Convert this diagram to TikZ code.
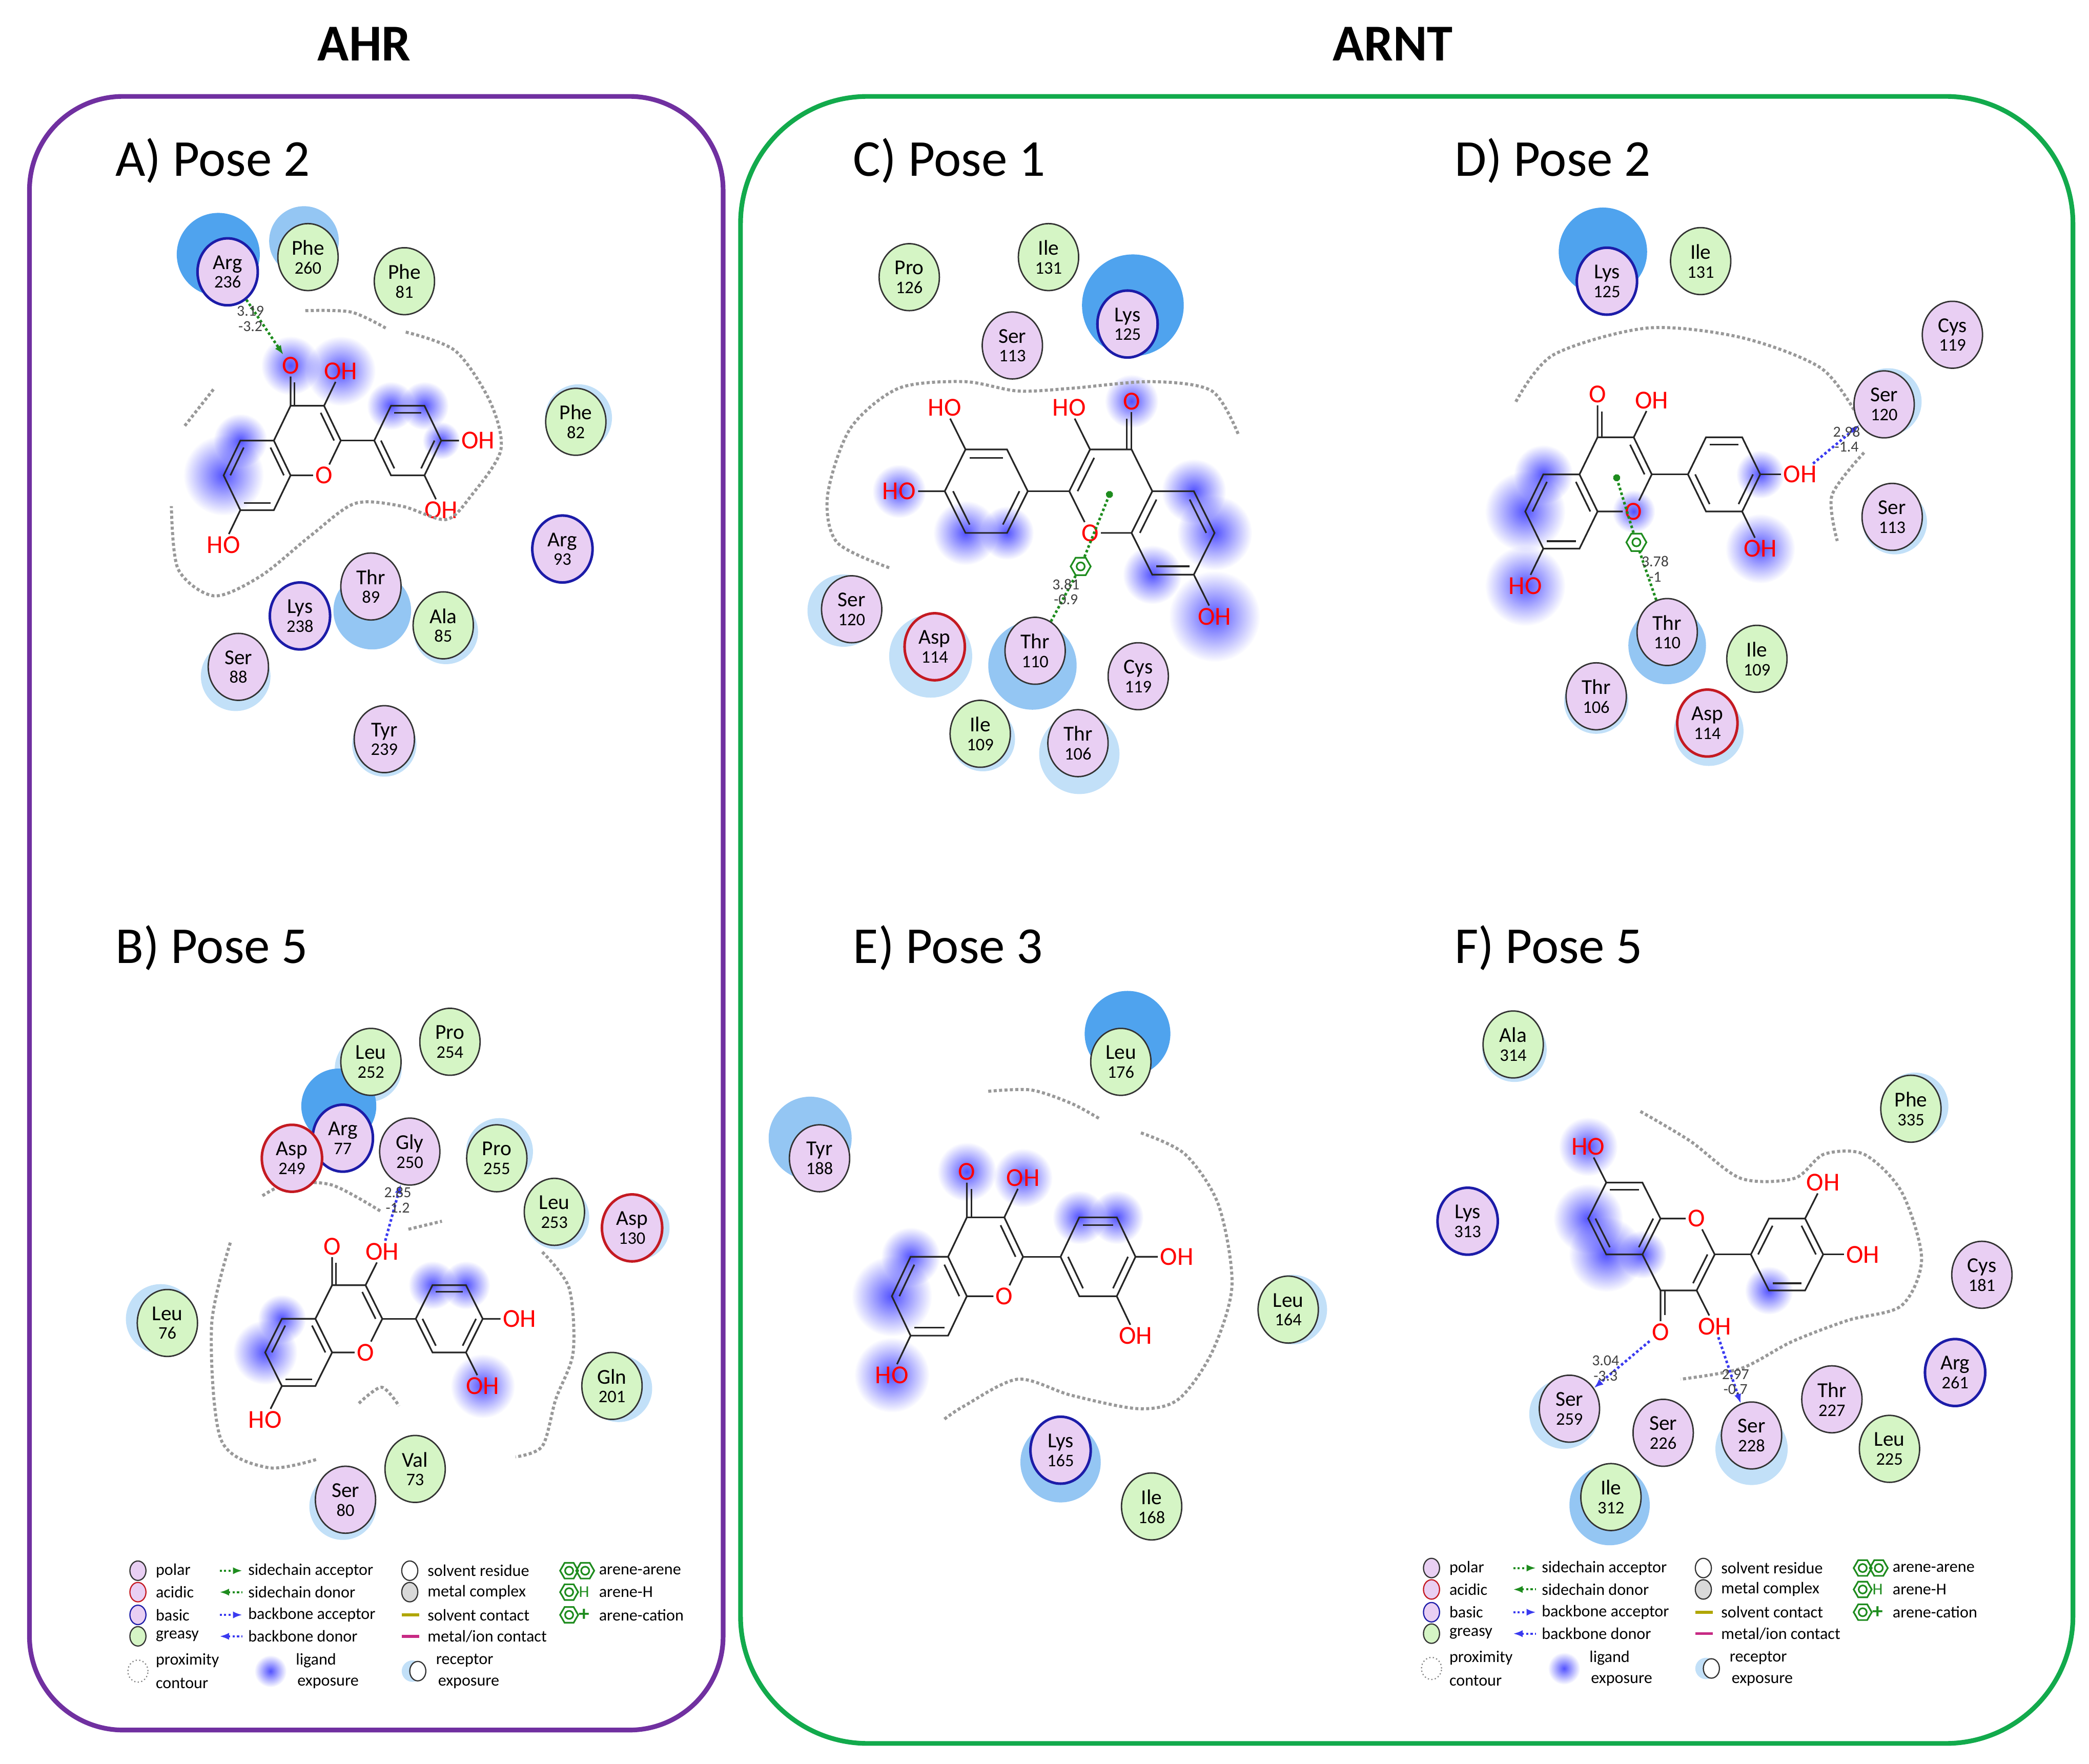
\documentclass[tikz,border=0pt]{standalone}
\usepackage{fontspec}
\setmainfont{Carlito}
\usetikzlibrary{positioning, arrows.meta, shapes.geometric, calc, fadings}

\definecolor{polarfill}{HTML}{E9CFF3}
\definecolor{greasyfill}{HTML}{D5F5C5}
\definecolor{basicdraw}{HTML}{1C1CA8}
\definecolor{acidicdraw}{HTML}{C41A22}
\definecolor{rxlight}{HTML}{C2E0F8}
\definecolor{rxmid}{HTML}{94C6F3}
\definecolor{rxstrong}{HTML}{4FA3EE}
\definecolor{ahrpurple}{HTML}{7030A0}
\definecolor{arntgreen}{HTML}{12AA4C}
\definecolor{hbgreen}{HTML}{1E8C1E}
\definecolor{hbblue}{HTML}{3A3AF0}

\tikzfading[name=blobfade, inner color=transparent!15, outer color=transparent!100]

\pgfdeclarelayer{bg}
\pgfsetlayers{bg,main}

\tikzset{
  res/.style={ellipse, draw=black!80, line width=0.6pt, minimum width=0.9cm, minimum height=1.0cm,
    inner sep=0pt, align=center, font=\fontsize{9}{9}\selectfont},
  polar/.style={res, fill=polarfill},
  greasy/.style={res, fill=greasyfill},
  acidic/.style={polar, draw=acidicdraw, line width=1.1pt},
  basic/.style={polar, draw=basicdraw, line width=1.1pt},
  legsym/.style={minimum width=0.24cm, minimum height=0.29cm, line width=0.5pt},
  rxl/.style={fill=rxlight},
  rxm/.style={fill=rxmid},
  rxs/.style={fill=rxstrong},
  lexp/.style={fill=blue!80, path fading=blobfade},
  atom/.style={text=red, font=\fontsize{11}{11}\selectfont, inner sep=0.8pt},
  bond/.style={line width=0.7pt, black!85},
  prox/.style={gray!80, densely dotted, line width=1.3pt},
  sca/.style={hbgreen, densely dotted, line width=1.1pt, -{Latex[length=4pt]}},
  bba/.style={hbblue, densely dotted, line width=1.1pt, -{Latex[length=4pt]}},
  dist/.style={font=\fontsize{6.5}{6.5}\selectfont, text=black!75, align=center, inner sep=0pt},
  arh/.style={regular polygon, regular polygon sides=6, draw=hbgreen, line width=0.7pt,
    minimum size=0.3cm, inner sep=0pt,
    path picture={\draw[hbgreen] (path picture bounding box.center) circle (0.06cm);}},
  pose/.style={anchor=west, font=\fontsize{22}{22}\selectfont},
  title/.style={font=\fontsize{22}{22}\selectfont\bfseries},
  leg/.style={anchor=west, font=\fontsize{7}{7}\selectfont, inner sep=0pt},
}

% residue: style, name, position, residue, number
\newcommand\res[5]{\node[#1] (#2) at (#3) {#4\\[-1pt]{\fontsize{7.5}{7.5}\selectfont #5}};}
% ligand exposure blob
\newcommand\lx[2]{\fill[lexp] (#1) circle (#2);}

% flavonol skeleton: scope options, name prefix
\newif\ifmirr
\newcommand\flav[2]{%
  \begin{scope}[#1]
    \coordinate (#2ra) at (0,0);
    \coordinate (#2rc) at (1.5,0.866);
    \coordinate (#2rb) at (4.5,0.866);
    \coordinate (#2c8a) at (1,0);
    \coordinate (#2c4a) at (0.5,0.866);
    \coordinate (#2c5) at (-0.5,0.866);
    \coordinate (#2c6) at (-1,0);
    \coordinate (#2c7) at (-0.5,-0.866);
    \coordinate (#2c8) at (0.5,-0.866);
    \coordinate (#2c4) at (1,1.732);
    \coordinate (#2c3) at (2,1.732);
    \coordinate (#2c2) at (2.5,0.866);
    \coordinate (#2b1) at (3.5,0.866);
    \coordinate (#2b2) at (4,1.732);
    \coordinate (#2b3) at (5,1.732);
    \coordinate (#2b4) at (5.5,0.866);
    \coordinate (#2b5) at (5,0);
    \coordinate (#2b6) at (4,0);
    \node[atom] (#2o1) at (2,0) {O};
    \node[atom] (#2o4) at (1,2.732) {O};
    \ifmirr
      \node[atom] (#2o3) at (2.5,2.598) {HO};
      \node[atom] (#2o7) at (-1,-1.732) {OH};
      \node[atom] (#2ob4) at (6.6,0.866) {HO};
      \coordinate (#2bm) at (#2b3);
      \node[atom] (#2obm) at (5.5,2.598) {HO};
    \else
      \node[atom] (#2o3) at (2.5,2.598) {OH};
      \node[atom] (#2o7) at (-1,-1.732) {HO};
      \node[atom] (#2ob4) at (6.6,0.866) {OH};
      \coordinate (#2bm) at (#2b5);
      \node[atom] (#2obm) at (5.5,-0.866) {OH};
    \fi
    \draw[bond] (#2c8a) -- (#2c4a) -- (#2c5) -- (#2c6) -- (#2c7) -- (#2c8) -- (#2c8a);
    \draw[bond] (#2c8a) -- (#2o1) -- (#2c2);
    \draw[bond] (#2c2) -- (#2c3) -- (#2c4) -- (#2c4a);
    \draw[bond] (#2c4) -- (#2o4);
    \draw[bond] (#2c3) -- (#2o3);
    \draw[bond] (#2c7) -- (#2o7);
    \draw[bond] (#2c2) -- (#2b1);
    \draw[bond] (#2b1) -- (#2b2) -- (#2b3) -- (#2b4) -- (#2b5) -- (#2b6) -- (#2b1);
    \draw[bond] (#2b4) -- (#2ob4);
    \draw[bond] (#2bm) -- (#2obm);
    % inner lines of the double bonds
    \foreach \p/\q/\r in {c6/c5/ra, c7/c8/ra, c4a/c8a/ra, c2/c3/rc, b2/b3/rb, b1/b6/rb, b4/b5/rb}
      \draw[bond] ($(#2\p)!0.2!(#2\r)$) -- ($(#2\q)!0.2!(#2\r)$);
    \draw[bond, shorten >=5pt] ($(#2c4)!0.12!(#2c3)$) -- ($(#2o4)!0.12!(#2c3)$);
  \end{scope}}

% legend block: x, y, prefix
\newcommand\legendbox[3]{%
  \begin{scope}[shift={(#1,#2)}]
    \node[polar, legsym] (#3s1) at (0,0) {};
    \node[acidic, legsym] (#3s2) at (0,16) {};
    \node[basic, legsym] (#3s3) at (0,33) {};
    \node[greasy, legsym] (#3s4) at (0,49) {};
    \node[leg] (#3t1) at (13,0) {polar};
    \node[leg] (#3t2) at (13,16) {acidic};
    \node[leg] (#3t3) at (13,33) {basic};
    \node[leg] (#3t4) at (13,49) {greasy};
    \foreach \i/\yy in {1/0, 2/16, 3/33, 4/49} {
      \coordinate (#3a\i) at (61,\yy);
      \coordinate (#3b\i) at (78,\yy);
    }
    \draw[sca, line width=0.9pt, -{Latex[length=4pt]}] (#3a1) -- (#3b1);
    \draw[sca, line width=0.9pt, {Latex[length=4pt]}-] (#3a2) -- (#3b2);
    \draw[bba, line width=0.9pt, -{Latex[length=4pt]}] (#3a3) -- (#3b3);
    \draw[bba, line width=0.9pt, {Latex[length=4pt]}-] (#3a4) -- (#3b4);
    \node[leg] (#3t5) at (82,0) {sidechain acceptor};
    \node[leg] (#3t6) at (82,16) {sidechain donor};
    \node[leg] (#3t7) at (82,33) {backbone acceptor};
    \node[leg] (#3t8) at (82,49) {backbone donor};
    \node[res, legsym, fill=white] (#3s5) at (203,0) {};
    \node[res, legsym, fill=black!15] (#3s6) at (203,16) {};
    \coordinate (#3c1) at (197,33);
    \coordinate (#3c2) at (210,33);
    \coordinate (#3c3) at (197,49);
    \coordinate (#3c4) at (210,49);
    \draw[olive!70!yellow, line width=1.2pt] (#3c1) -- (#3c2);
    \draw[magenta!80!black, line width=1.2pt] (#3c3) -- (#3c4);
    \node[leg] (#3t9) at (216,0) {solvent residue};
    \node[leg] (#3t10) at (216,16) {metal complex};
    \node[leg] (#3t11) at (216,33) {solvent contact};
    \node[leg] (#3t12) at (216,49) {metal/ion contact};
    \node[arh, minimum size=0.27cm] (#3h1) at (322,0) {};
    \node[arh, minimum size=0.27cm] (#3h2) at (334,0) {};
    \node[arh, minimum size=0.27cm] (#3h3) at (322,16) {};
    \node[arh, minimum size=0.27cm] (#3h4) at (322,33) {};
    \node[leg, text=hbgreen] (#3hh) at (329,16) {H};
    \node[leg, text=hbgreen, font=\fontsize{9}{9}\selectfont\bfseries] (#3hp) at (329,33) {+};
    \node[leg] (#3t13) at (344,0) {arene-arene};
    \node[leg] (#3t14) at (344,16) {arene-H};
    \node[leg] (#3t15) at (344,33) {arene-cation};
    \node[res, legsym, draw=gray, densely dotted, minimum width=0.3cm, minimum height=0.33cm] (#3s7) at (0,75) {};
    \node[leg] (#3t16) at (13,67) {proximity};
    \node[leg] (#3t17) at (13,84) {contour};
    \fill[lexp] (99,75) circle (12);
    \node[leg, anchor=center] (#3t18) at (133,67) {ligand};
    \node[leg, anchor=center] (#3t19) at (142,84) {exposure};
    \fill[rxl] (205,75) circle (8);
    \node[res, legsym, fill=white] (#3s8) at (209,75) {};
    \node[leg, anchor=center] (#3t20) at (244,67) {receptor};
    \node[leg, anchor=center] (#3t21) at (247,84) {exposure};
  \end{scope}}

\begin{document}
\begin{tikzpicture}[x=0.02cm, y=-0.02cm]
  \useasboundingbox (0,0) rectangle (1560,1317);

  % frames and titles
  \draw[ahrpurple, line width=2pt, rounded corners=1.4cm] (22,72) rectangle (540,1292);
  \draw[arntgreen, line width=2pt, rounded corners=1.9cm] (553,72) rectangle (1548,1302);
  \node[title] (tAHR) at (272,33) {AHR};
  \node[title] (tARNT) at (1040,33) {ARNT};
  \node[pose] (pA) at (80,120) {A) Pose 2};
  \node[pose] (pB) at (80,708) {B) Pose 5};
  \node[pose] (pC) at (631,120) {C) Pose 1};
  \node[pose] (pD) at (1080,120) {D) Pose 2};
  \node[pose] (pE) at (631,708) {E) Pose 3};
  \node[pose] (pF) at (1080,708) {F) Pose 5};

  % ligands
  \mirrfalse
  \flav{shift={(192,355)}, xscale=25, yscale=-30}{A}
  \flav{shift={(223,1010)}, xscale=25, yscale=-29}{B}
  \flav{shift={(1166,382)}, xscale=27, yscale=-32}{D}
  \flav{shift={(694,968)}, xscale=28, yscale=-34}{E}
  \flav{shift={(1213,910)}, xscale=27, yscale=31}{F}
  \mirrtrue
  \flav{shift={(876,398)}, xscale=-31, yscale=-36}{C}

  \begin{pgfonlayer}{bg}
    % receptor exposure
    \fill[rxs] (163,190) circle (31);
    \fill[rxm] (227,180) circle (26);
    \fill[rxl] (432,312) circle (25);
    \fill[rxm] (278,456) circle (29);
    \fill[rxl] (333,472) circle (24);
    \fill[rxl] (176,505) circle (26);
    \fill[rxl] (287,556) circle (24);
    \fill[rxl] (275,798) circle (25);
    \fill[rxs] (253,826) circle (28);
    \fill[rxl] (373,860) circle (25);
    \fill[rxl] (416,909) circle (24);
    \fill[rxl] (476,917) circle (24);
    \fill[rxl] (120,985) circle (26);
    \fill[rxl] (462,1037) circle (25);
    \fill[rxl] (256,1125) circle (25);
    \fill[rxs] (846,228) circle (38);
    \fill[rxl] (630,456) circle (27);
    \fill[rxl] (695,490) circle (31);
    \fill[rxm] (771,497) circle (33);
    \fill[rxl] (734,552) circle (24);
    \fill[rxl] (806,563) circle (30);
    \fill[rxs] (1197,188) circle (33);
    \fill[rxl] (1410,300) circle (25);
    \fill[rxl] (1415,390) circle (24);
    \fill[rxm] (1245,482) circle (29);
    \fill[rxl] (1192,524) circle (24);
    \fill[rxl] (1276,546) circle (26);
    \fill[rxs] (842,772) circle (32);
    \fill[rxm] (605,850) circle (31);
    \fill[rxl] (965,978) circle (26);
    \fill[rxm] (792,1092) circle (30);
    \fill[rxl] (1131,784) circle (24);
    \fill[rxl] (1430,826) circle (25);
    \fill[rxl] (1168,1056) circle (26);
    \fill[rxl] (1308,1082) circle (27);
    \fill[rxm] (1202,1124) circle (30);
    % ligand exposure
    \lx{Ao4}{22} \lx{Ao3}{26} \lx{Ac6}{30} \lx{Ac5}{20} \lx{Ab2}{18} \lx{Ab3}{18} \lx{Ab4}{14}
    \lx{Bc6}{24} \lx{Bc5}{18} \lx{Bobm}{24} \lx{Bb3}{18} \lx{Bb2}{18}
    \lx{Co4}{20} \lx{Cc5}{24} \lx{Cc6}{28} \lx{Co7}{34} \lx{Cc8}{22} \lx{Cb5}{24} \lx{Cb6}{20} \lx{Cob4}{20}
    \lx{Dc6}{30} \lx{Dc5}{22} \lx{Do7}{30} \lx{Dobm}{26} \lx{Db4}{18} \lx{Do1}{16}
    \lx{Eo4}{22} \lx{Eo3}{22} \lx{Ec5}{22} \lx{Ec6}{30} \lx{Eo7}{28} \lx{Eb2}{20} \lx{Eb3}{20}
    \lx{Fo7}{22} \lx{Fc5}{28} \lx{Fc6}{26} \lx{Fc4a}{18} \lx{Fb2}{18}
  \end{pgfonlayer}

  % proximity contours
  \draw[prox] plot[smooth] coordinates {(228,232) (262,233) (288,245)};
  \draw[prox] plot[smooth] coordinates {(303,248) (340,262) (366,300) (374,336) (352,370) (333,388) (300,378) (265,376) (232,400) (195,430) (160,445) (133,425) (128,378)};
  \draw[prox] plot[smooth] coordinates {(138,318) (160,290)};
  \draw[prox] plot[smooth] coordinates {(196,893) (215,884) (248,885) (285,905)};
  \draw[prox] plot[smooth] coordinates {(305,918) (330,912)};
  \draw[prox] plot[smooth] coordinates {(405,935) (425,962) (428,1010) (415,1045) (405,1080) (385,1088)};
  \draw[prox] plot[smooth] coordinates {(172,928) (158,990) (165,1075) (200,1096) (236,1090)};
  \draw[prox] plot[smooth] coordinates {(268,1048) (285,1036) (298,1050)};
  \draw[prox] plot[smooth] coordinates {(664,424) (625,405) (618,370) (635,320) (671,290) (720,285) (760,292) (800,290) (860,285) (905,292) (925,325)};
  \draw[prox] plot[smooth] coordinates {(1132,300) (1160,265) (1230,245) (1300,252) (1360,275) (1388,312)};
  \draw[prox] plot[smooth] coordinates {(1392,338) (1368,370) (1372,404)};
  \draw[prox] plot[smooth] coordinates {(738,815) (770,814) (800,824) (822,836)};
  \draw[prox] plot[smooth] coordinates {(852,846) (885,862) (910,900) (920,960) (905,1010) (880,1045) (850,1052) (800,1042) (760,1030) (720,1050) (705,1060)};
  \draw[prox] plot[smooth] coordinates {(1225,830) (1262,852) (1300,880) (1340,880) (1362,862) (1392,862) (1420,890) (1435,940) (1420,975) (1380,986) (1338,1002) (1300,1022) (1255,1030)};

  % residues, A
  \res{basic}{aArg236}{170,203}{Arg}{236}
  \res{greasy}{aPhe260}{230,192}{Phe}{260}
  \res{greasy}{aPhe81}{302,210}{Phe}{81}
  \res{greasy}{aPhe82}{430,315}{Phe}{82}
  \res{basic}{aArg93}{420,410}{Arg}{93}
  \res{polar}{aThr89}{277,438}{Thr}{89}
  \res{basic}{aLys238}{224,460}{Lys}{238}
  \res{greasy}{aAla85}{331,467}{Ala}{85}
  \res{polar}{aSer88}{178,498}{Ser}{88}
  \res{polar}{aTyr239}{287,552}{Tyr}{239}
  % residues, B
  \res{greasy}{bLeu252}{277,793}{Leu}{252}
  \res{greasy}{bPro254}{336,778}{Pro}{254}
  \res{basic}{bArg77}{256,850}{Arg}{77}
  \res{acidic}{bAsp249}{218,865}{Asp}{249}
  \res{polar}{bGly250}{306,860}{Gly}{250}
  \res{greasy}{bPro255}{371,865}{Pro}{255}
  \res{greasy}{bLeu253}{414,905}{Leu}{253}
  \res{acidic}{bAsp130}{472,917}{Asp}{130}
  \res{greasy}{bLeu76}{125,988}{Leu}{76}
  \res{greasy}{bGln201}{457,1035}{Gln}{201}
  \res{greasy}{bVal73}{310,1097}{Val}{73}
  \res{polar}{bSer80}{258,1120}{Ser}{80}
  % residues, C
  \res{greasy}{cPro126}{679,207}{Pro}{126}
  \res{greasy}{cIle131}{783,192}{Ile}{131}
  \res{basic}{cLys125}{842,242}{Lys}{125}
  \res{polar}{cSer113}{756,258}{Ser}{113}
  \res{polar}{cSer120}{636,455}{Ser}{120}
  \res{acidic}{cAsp114}{698,483}{Asp}{114}
  \res{polar}{cThr110}{773,486}{Thr}{110}
  \res{polar}{cCys119}{850,505}{Cys}{119}
  \res{greasy}{cIle109}{732,548}{Ile}{109}
  \res{polar}{cThr106}{805,555}{Thr}{106}
  % residues, D
  \res{basic}{dLys125}{1200,210}{Lys}{125}
  \res{greasy}{dIle131}{1270,195}{Ile}{131}
  \res{polar}{dCys119}{1458,250}{Cys}{119}
  \res{polar}{dSer120}{1407,302}{Ser}{120}
  \res{polar}{dSer113}{1413,386}{Ser}{113}
  \res{polar}{dThr110}{1245,472}{Thr}{110}
  \res{greasy}{dIle109}{1312,492}{Ile}{109}
  \res{polar}{dThr106}{1192,520}{Thr}{106}
  \res{acidic}{dAsp114}{1275,540}{Asp}{114}
  % residues, E
  \res{greasy}{eLeu176}{837,793}{Leu}{176}
  \res{polar}{eTyr188}{612,865}{Tyr}{188}
  \res{greasy}{eLeu164}{962,978}{Leu}{164}
  \res{basic}{eLys165}{792,1083}{Lys}{165}
  \res{greasy}{eIle168}{860,1125}{Ile}{168}
  % residues, F
  \res{greasy}{fAla314}{1130,780}{Ala}{314}
  \res{greasy}{fPhe335}{1427,828}{Phe}{335}
  \res{basic}{fLys313}{1096,912}{Lys}{313}
  \res{polar}{fCys181}{1480,952}{Cys}{181}
  \res{basic}{fArg261}{1460,1025}{Arg}{261}
  \res{polar}{fThr227}{1368,1045}{Thr}{227}
  \res{greasy}{fLeu225}{1411,1082}{Leu}{225}
  \res{polar}{fSer259}{1172,1052}{Ser}{259}
  \res{polar}{fSer226}{1242,1070}{Ser}{226}
  \res{polar}{fSer228}{1308,1072}{Ser}{228}
  \res{greasy}{fIle312}{1203,1118}{Ile}{312}

  % interactions
  \draw[sca] (aArg236) -- (Ao4);
  \node[dist] (dA) at (187,238) {3.19\\-3.2};
  \draw[bba] (Bo3) -- (bGly250);
  \node[dist] (dB) at (297,896) {2.85\\-1.2};
  \node[arh] (cAH) at (807,423) {};
  \draw[sca, -] (cThr110) -- (cAH);
  \draw[sca, -{Circle[length=3pt]}] (cAH) -- (Crc);
  \node[dist] (dC) at (796,442) {3.81\\-0.9};
  \draw[bba] (Dob4) -- (dSer120);
  \node[dist] (dD1) at (1379,328) {2.98\\-1.4};
  \node[arh] (dAH) at (1222,405) {};
  \draw[sca, -] (dThr110) -- (dAH);
  \draw[sca, -{Circle[length=3pt]}] (dAH) -- (Drc);
  \node[dist] (dD2) at (1236,425) {3.78\\-1};
  \draw[bba] (Fo4) -- (fSer259);
  \node[dist] (dF1) at (1199,1022) {3.04\\-3.3};
  \draw[bba] (Fo3) -- (fSer228);
  \node[dist] (dF2) at (1296,1032) {2.97\\-0.7};

  % legends
  \legendbox{103}{1173}{lA}
  \legendbox{1069}{1171}{lF}
\end{tikzpicture}
\end{document}
